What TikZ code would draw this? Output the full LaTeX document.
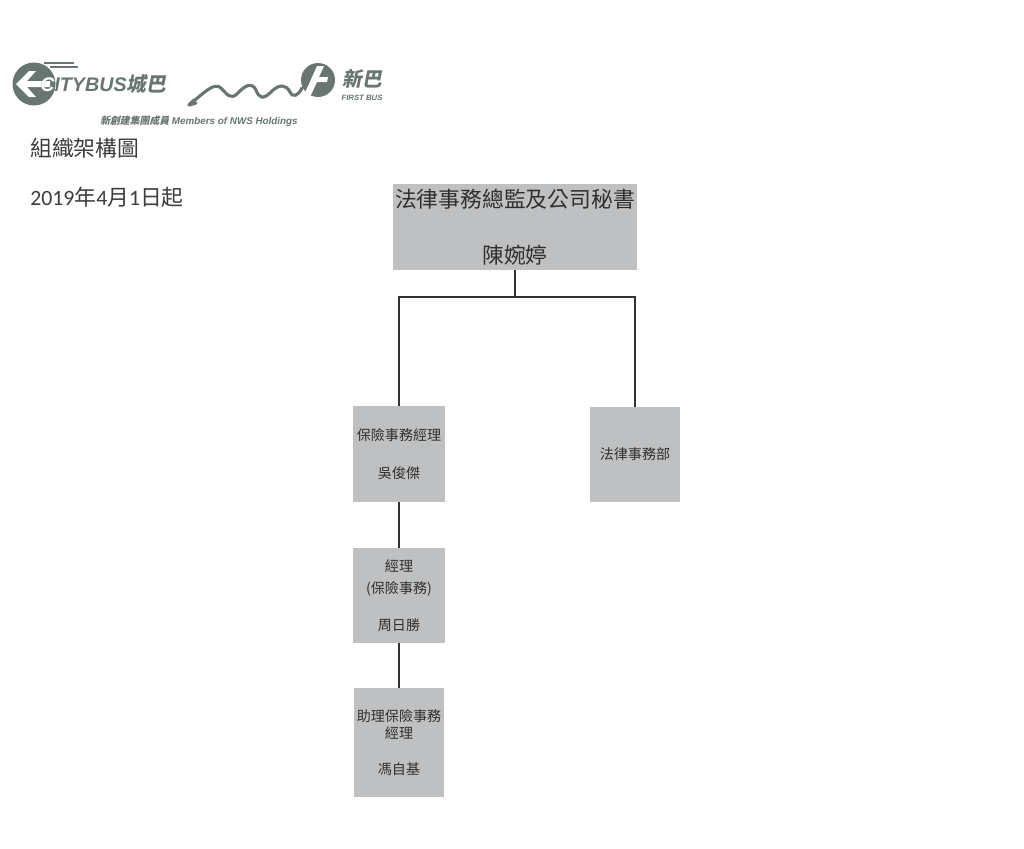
\documentclass[tikz,border=0pt]{standalone}
\usepackage{fontspec}
\setmainfont{Noto Sans CJK TC}
\newfontfamily\logofont{Liberation Sans}
\newfontfamily\cjkslant[FakeSlant=0.2]{Noto Sans CJK TC}
\newfontfamily\digitfont{Carlito}
\usetikzlibrary{positioning}
\definecolor{boxgray}{RGB}{190,192,194}
\definecolor{boxtext}{RGB}{48,48,48}
\definecolor{linegray}{RGB}{50,50,50}
\definecolor{logogray}{RGB}{104,118,111}
\definecolor{headgray}{RGB}{60,60,60}
\tikzset{
    orgnode/.style = {rectangle, fill=boxgray, align=center, inner sep=0pt, text=boxtext, font=\fontsize{10}{12.5}\selectfont},
    orgnodebig/.style = {orgnode, font=\fontsize{15.5}{19}\selectfont},
    headnode/.style = {anchor=west, inner sep=0pt, text=headgray, font=\fontsize{15.5}{19}\selectfont},
    edgen/.style = {-, line width=1pt, linegray},
    edgelogo/.style = {-, line width=2.2pt, logogray, line cap=round, line join=round}
}

\begin{document}
\begin{tikzpicture}[x=0.025cm, y=-0.025cm]
\path[use as bounding box, fill=white] (0,0) rectangle (1024,848);
% logos
\fill[logogray] (34,84) circle (21.5);
\draw[logogray, line width=1.2pt] (44,63) -- (74,63);
\draw[logogray, line width=1.2pt] (50,67) -- (78,67);
\fill[white] (16,84) -- (29,71) -- (36,71) -- (27,81) -- (50,81) -- (50,87) -- (27,87) -- (36,97) -- (29,97) -- cycle;
\node[anchor=west, inner sep=0pt, text=logogray, font=\fontsize{14}{14}\selectfont] at (40,84) (citybus) {\logofont\bfseries\itshape CITYBUS\cjkslant\bfseries 城巴};
\begin{scope}
\clip (34,84) circle (21.5);
\node[anchor=west, inner sep=0pt, text=white, font=\fontsize{14}{14}\selectfont] at (40,84) {\logofont\bfseries\itshape CITYBUS\cjkslant\bfseries 城巴};
\end{scope}
\draw[edgelogo] (194,100) -- (189,105) -- (196,103);
\draw[edgelogo] (189,105) .. controls (205,92) and (214,82) .. (221,88)
    .. controls (227,94) and (230,100) .. (237,94)
    .. controls (245,85) and (252,82) .. (256,90)
    .. controls (259,98) and (263,100) .. (271,92)
    .. controls (279,84) and (286,84) .. (290,92)
    .. controls (293,98) and (298,96) .. (302,88);
\fill[logogray] (318,80) circle (17);
\fill[white] (317,66) -- (324,66) -- (319,77) -- (328,77) -- (327,82) -- (317,82) -- (311,95) -- (304,95) -- cycle;
\node[inner sep=0pt, text=logogray, font=\fontsize{14}{14}\selectfont] at (362,79) (xinba) {\cjkslant\bfseries 新巴};
\node[inner sep=0pt, text=logogray, font=\fontsize{5.5}{6}\selectfont] at (362,98) (firstbus) {\logofont\bfseries\itshape FIRST BUS};
\node[inner sep=0pt, text=logogray, font=\fontsize{7}{7}\selectfont] at (199,121) (nws) {\cjkslant\bfseries 新創建集團成員\logofont\bfseries\itshape\ Members of NWS Holdings};
% headings
\node[headnode] at (30,148) (title) {組織架構圖};
\node[headnode] at (30,197) (date) {{\digitfont 2019}年{\digitfont 4}月{\digitfont 1}日起};
% boxes
\node[orgnodebig, minimum width=6.1cm, minimum height=2.15cm] at (515,227) (top) {法律事務總監及公司秘書\\[21pt]陳婉婷};
\node[orgnode, minimum width=2.3cm, minimum height=2.4cm] at (399,454) (ins) {保險事務經理\\[14.5pt]吳俊傑};
\node[orgnode, minimum width=2.25cm, minimum height=2.375cm] at (635,454.5) (legal) {法律事務部};
\node[orgnode, minimum width=2.3cm, minimum height=2.375cm] at (399,595.5) (mgr) {經理\\[3.5pt](保險事務)\\[13.5pt]周日勝};
\node[orgnode, minimum width=2.25cm, minimum height=2.725cm] at (399,742.5) (asst) {助理保險事務\\經理\\[13pt]馮自基};
%
\coordinate (split) at (515,297);
\draw[edgen] (top.south) -- (split);
\draw[edgen] (split) -| (ins.north);
\draw[edgen] (split) -| (legal.north);
\draw[edgen] (ins.south) -- (mgr.north);
\draw[edgen] (mgr.south) -- (asst.north);
\end{tikzpicture}
\end{document}
